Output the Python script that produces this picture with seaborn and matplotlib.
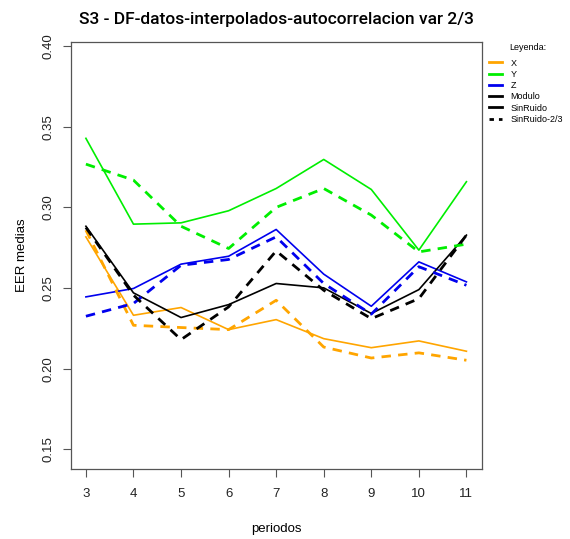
import pandas as pd
import matplotlib
matplotlib.use("Agg")
import matplotlib.pyplot as plt
from matplotlib.lines import Line2D
import seaborn as sns

# periods on the x axis
periodos = [3, 4, 5, 6, 7, 8, 9, 10, 11]

# mean EER per series (solid = all data, dashed = SinRuido-2/3)
x_vals = [0.2817, 0.2331, 0.2379, 0.2242, 0.2304, 0.2186, 0.2130, 0.2172, 0.2108]
y_vals = [0.3428, 0.2896, 0.2904, 0.2979, 0.3117, 0.3297, 0.3111, 0.2735, 0.3159]
z_vals = [0.2445, 0.2497, 0.2648, 0.2697, 0.2863, 0.2586, 0.2387, 0.2662, 0.2538]
modulo_vals = [0.2883, 0.2470, 0.2317, 0.2397, 0.2528, 0.2501, 0.2342, 0.2490, 0.2828]

x_dash = [0.2859, 0.2269, 0.2255, 0.2242, 0.2424, 0.2134, 0.2066, 0.2098, 0.2052]
y_dash = [0.3268, 0.3169, 0.2883, 0.2745, 0.3000, 0.3117, 0.2952, 0.2724, 0.2772]
z_dash = [0.2325, 0.2404, 0.2641, 0.2677, 0.2817, 0.2528, 0.2338, 0.2632, 0.2517]
modulo_dash = [0.2875, 0.2456, 0.2180, 0.2383, 0.2730, 0.2486, 0.2310, 0.2434, 0.2828]

legend_labels = ["X", "Y", "Z", "Modulo", "SinRuido", "SinRuido-2/3"]

plt.rcParams['font.family'] = ['Liberation Sans', 'DejaVu Sans']

fig = plt.figure(figsize=(5.70, 5.39), dpi=100)
ax = fig.add_axes([0.124, 0.1293, 0.721, 0.7927])

orange = "#FFA500"
green = "#00EE00"
blue = "#0000EE"

series = [
    (x_vals, orange, "-"), (y_vals, green, "-"), (z_vals, blue, "-"), (modulo_vals, "black", "-"),
    (x_dash, orange, "--"), (y_dash, green, "--"), (z_dash, blue, "--"), (modulo_dash, "black", "--"),
]
for vals, col, ls in series:
    df = pd.DataFrame({"periodos": periodos, "eer": vals})
    if ls == "-":
        sns.lineplot(data=df, x="periodos", y="eer", color=col, linewidth=1.2, ax=ax)
    else:
        sns.lineplot(data=df, x="periodos", y="eer", color=col, linewidth=2.0,
                     ax=ax).lines[-1].set_dashes((3.4, 2.6))

ax.set_xlim(2.68, 11.32)
ax.set_ylim(0.1376, 0.4025)
ax.set_xticks(periodos)
ax.set_yticks([0.15, 0.20, 0.25, 0.30, 0.35, 0.40])
ax.set_yticklabels(["0.15", "0.20", "0.25", "0.30", "0.35", "0.40"], rotation=90, va="center")
ax.tick_params(axis="both", length=5.8, width=0.8, color="#555555", labelsize=9.5, labelcolor="#222222")
ax.tick_params(axis="y", pad=6)
ax.tick_params(axis="x", pad=8)
for sp in ax.spines.values():
    sp.set_color("#555555")
    sp.set_linewidth(0.9)

ax.set_xlabel("periodos", fontsize=9.5, labelpad=16)
ax.set_ylabel("EER medias", fontsize=9.5, labelpad=10)
ax.set_title("S3 - DF-datos-interpolados-autocorrelacion var 2/3", fontsize=12.5,
             fontweight="medium", family=["Roboto", "DejaVu Sans"], pad=13)

handles = [
    Line2D([], [], color=orange, lw=2),
    Line2D([], [], color=green, lw=2),
    Line2D([], [], color=blue, lw=2),
    Line2D([], [], color="black", lw=2),
    Line2D([], [], color="black", lw=2),
    Line2D([], [], color="black", lw=2, dashes=(1.6, 1.8)),
]
fig.text(528 / 570, 1 - 47 / 539, "Leyenda:", fontsize=6.5, ha="center", va="center")
fig.legend(handles, legend_labels, loc="upper left",
           bbox_to_anchor=(0.851, 0.898), frameon=False, fontsize=6.5,
           handlelength=1.5, labelspacing=0.25, handletextpad=0.9, borderaxespad=0.0)

fig.savefig("out.png", dpi=100)
